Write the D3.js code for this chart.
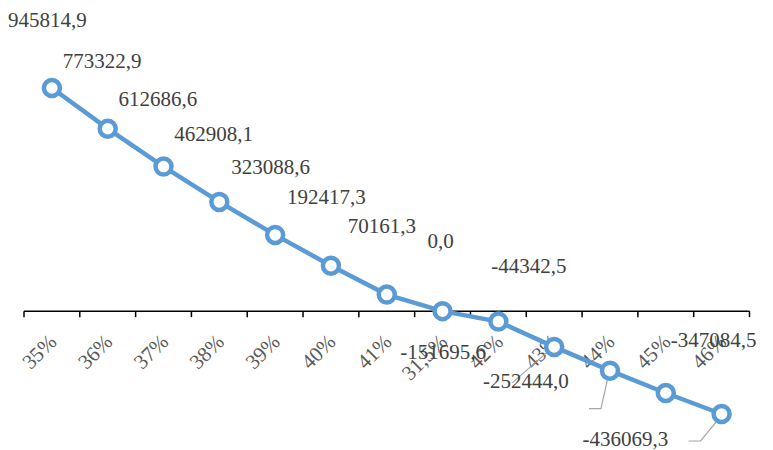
<!DOCTYPE html>
<html><head><meta charset="utf-8"><script src="https://cdn.jsdelivr.net/npm/d3@7"></script></head>
<body style="margin:0">
<script>
// categories (x axis) and values
const categories = ["35%", "36%", "37%", "38%", "39%", "40%", "41%", "31,5%", "42%", "43%", "44%", "45%", "46%"];
const values = [945814.9, 773322.9, 612686.6, 462908.1, 323088.6, 192417.3, 70161.3, 0.0, -44342.5, -151695.6, -252444.0, -347084.5, -436069.3];
const labels = ["945814,9", "773322,9", "612686,6", "462908,1", "323088,6", "192417,3", "70161,3", "0,0", "-44342,5", "-151695,6", "-252444,0", "-347084,5", "-436069,3"];

// where Excel had dragged each data label (offset from its point, px)
const labelOffsets = [[-44, -61], [-45, -61], [-45, -61], [-45, -61], [-44, -61], [-44, -62], [-39, -62], [-15, -63], [-7, -49], [-154, 12], [-127, 17], [5, -46], [-139, 32]];
// gray leader lines, as offsets from their point
const leaders = [
  [9, [[-42, 36], [-2, 1]]],
  [10, [[-21, 38], [-9, 38], [-1, 2]]],
  [12, [[-33, 27], [-21, 27], [-3, 5]]]
];

const fontOf = d => "'Times New Roman'";

const svg = d3.select("body").append("svg").attr("width", 773).attr("height", 450);

// x is a band scale so ticks sit between categories
const x = d3.scaleBand().domain(categories).range([24, 749.5]);
const y = d3.scaleLinear().domain([-436069.3, 945814.9]).range([414, 88]);
const y0 = y(0);

// axis line + ticks between categories
svg.append("line")
  .attr("x1", 24).attr("x2", 749.5)
  .attr("y1", y0).attr("y2", y0)
  .attr("stroke", "#000").attr("stroke-width", 1.5);

const tickXs = categories.map(c => x(c)).concat([x.range()[1]]);
svg.selectAll(".tick").data(tickXs).enter().append("line")
  .attr("x1", d => d).attr("x2", d => d)
  .attr("y1", y0).attr("y2", y0 + 6)
  .attr("stroke", "#000").attr("stroke-width", 1.5);

// rotated category labels
svg.selectAll(".cat").data(categories).enter().append("text")
  .attr("text-anchor", "end")
  .attr("font-size", 21)
  .style("font-family", fontOf)
  .attr("fill", "#595959")
  .attr("transform", d => "translate(" + (x(d) + x.bandwidth() / 2 + 6) + "," + (y0 + 32) + ") rotate(-45)")
  .text(d => d);

const cx = (d, i) => x(categories[i]) + x.bandwidth() / 2;

// leader lines
const lineGen = d3.line();
leaders.forEach(function (l) {
  const i = l[0];
  const px = cx(null, i), py = y(values[i]);
  svg.append("path")
    .attr("d", lineGen(l[1].map(p => [px + p[0], py + p[1]])))
    .attr("fill", "none")
    .attr("stroke", "#a6a6a6")
    .attr("stroke-width", 1.2);
});

// the series line
svg.append("path")
  .datum(values)
  .attr("d", d3.line().x((d, i) => cx(d, i)).y(d => y(d)))
  .attr("fill", "none")
  .attr("stroke", "#5b9bd5")
  .attr("stroke-width", 4.5);

// markers
svg.selectAll(".pt").data(values).enter().append("circle")
  .attr("cx", (d, i) => cx(d, i))
  .attr("cy", d => y(d))
  .attr("r", 8)
  .attr("fill", "#fff")
  .attr("stroke", "#5b9bd5")
  .attr("stroke-width", 4.5);

// data labels
svg.selectAll(".lbl").data(values).enter().append("text")
  .attr("x", (d, i) => cx(d, i) + labelOffsets[i][0])
  .attr("y", (d, i) => y(d) + labelOffsets[i][1])
  .attr("font-size", 21)
  .style("font-family", fontOf)
  .attr("fill", "#404040")
  .text((d, i) => labels[i]);
</script></body></html>
